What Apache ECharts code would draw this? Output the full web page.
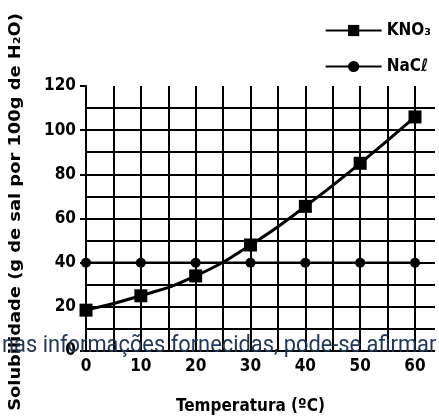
<!DOCTYPE html>
<html><head><meta charset="utf-8">
<script src="https://cdn.jsdelivr.net/npm/echarts@6/dist/echarts.min.js"></script>
<style>html,body{margin:0;padding:0;background:#fff}#c{width:439px;height:417px}</style>
</head><body><div id="c"></div>
<script>
const temperatures = [0, 10, 20, 30, 40, 50, 60];
const kno3 = [18.5, 25, 34, 48, 65.5, 85, 106];
const nacl = [40, 40, 40, 40, 40, 40, 40];
const xTicks = [0, 10, 20, 30, 40, 50, 60];
const yTicks = [0, 20, 40, 60, 80, 100, 120];

const FONT = '"Liberation Sans Narrow", "Arial Narrow", "DejaVu Sans Condensed", sans-serif';
const chart = echarts.init(document.getElementById('c'), null, {renderer: 'canvas'});
const lineStyle = {color: '#000', width: 2};
chart.setOption({
  animation: false,
  backgroundColor: '#fff',
  grid: [
    {left: 86, right: 24, top: 86, bottom: 66, containLabel: false, outerBoundsMode: 'none'},
    {left: 86, right: 4, top: 108, bottom: 66, containLabel: false, outerBoundsMode: 'none'}
  ],
  legend: {
    orient: 'vertical', right: 3, top: 17, itemWidth: 56, itemHeight: 14, itemGap: 19,
    textStyle: {fontFamily: FONT, fontWeight: 'bold', fontSize: 17, color: '#000'},
    data: ['KNO₃', 'NaCℓ']
  },
  xAxis: [
    {gridIndex: 0, type: 'value', min: xTicks[0], max: xTicks[xTicks.length - 1], interval: 10,
     name: 'Temperatura (ºC)', nameLocation: 'middle', nameGap: 47,
     nameTextStyle: {fontFamily: FONT, fontWeight: 'bold', fontSize: 17, color: '#000'},
     axisLine: {show: true, lineStyle}, axisTick: {show: false},
     axisLabel: {margin: 7, fontFamily: FONT, fontWeight: 'bold', fontSize: 17, color: '#000'},
     splitLine: {show: true, lineStyle},
     minorTick: {show: false, splitNumber: 2},
     minorSplitLine: {show: true, lineStyle}},
    {gridIndex: 1, type: 'value', min: 0, max: 1, show: false}
  ],
  yAxis: [
    {gridIndex: 0, type: 'value', min: yTicks[0], max: yTicks[yTicks.length - 1], interval: 20,
     axisLine: {show: true, lineStyle}, axisTick: {show: true, length: 6, lineStyle},
     axisLabel: {margin: 10, fontFamily: FONT, fontWeight: 'bold', fontSize: 17, color: '#000'},
     splitLine: {show: false}},
    {gridIndex: 1, type: 'value', min: 0, max: 110, interval: 10,
     axisLine: {show: false}, axisTick: {show: false}, axisLabel: {show: false},
     splitLine: {show: true, lineStyle}}
  ],
  series: [
    {name: 'KNO₃', type: 'line', xAxisIndex: 0, yAxisIndex: 0, smooth: true,
     symbol: 'rect', symbolSize: 13, z: 5,
     itemStyle: {color: '#000'}, lineStyle: {color: '#000', width: 3},
     data: temperatures.map((t, i) => [t, kno3[i]])},
    {name: 'NaCℓ', type: 'line', xAxisIndex: 0, yAxisIndex: 0,
     symbol: 'circle', symbolSize: 10, z: 4,
     itemStyle: {color: '#000'}, lineStyle: {color: '#000', width: 2.5},
     data: temperatures.map((t, i) => [t, nacl[i]])}
  ],
  graphic: [
    {type: 'text', x: 16, y: 212, rotation: Math.PI / 2, scaleX: 1.24, z: 50,
     style: {text: 'Solubilidade (g de sal por 100g de H₂O)', fill: '#000',
             font: 'bold 16px ' + FONT, align: 'center', verticalAlign: 'middle'}},
    {type: 'text', x: 2, y: 346, scaleX: 0.91, z: 100,
     style: {text: 'nas informações fornecidas, pode-se afirmar', fill: '#1f3656',
             font: '24px Roboto, "Liberation Sans", sans-serif', align: 'left', verticalAlign: 'middle'}}
  ]
});
</script></body></html>
